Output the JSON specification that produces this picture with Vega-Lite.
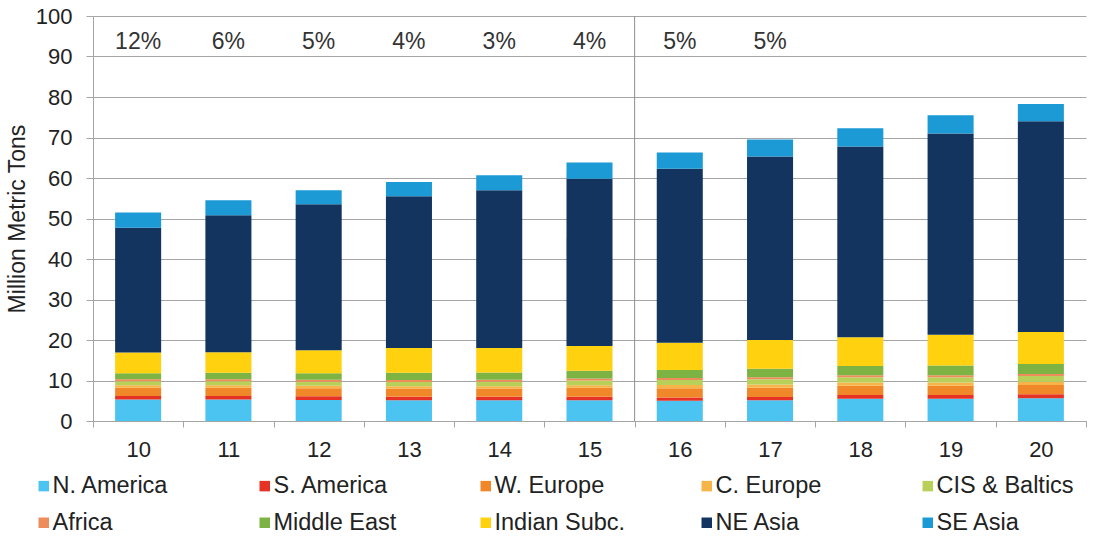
{
  "$schema": "https://vega.github.io/schema/vega-lite/v6.json",
  "width": 993,
  "height": 405,
  "autosize": "none",
  "padding": {"left": 93, "top": 16, "right": 7, "bottom": 115},
  "background": "white",
  "config": {"font": "Liberation Sans", "view": {"stroke": null}},
  "datasets": {
    "exports": [
      {"year": "10", "region": "N. America", "value": 5.3},
      {"year": "10", "region": "S. America", "value": 0.9},
      {"year": "10", "region": "W. Europe", "value": 2.0},
      {"year": "10", "region": "C. Europe", "value": 0.6},
      {"year": "10", "region": "CIS & Baltics", "value": 1.0},
      {"year": "10", "region": "Africa", "value": 0.5},
      {"year": "10", "region": "Middle East", "value": 1.5},
      {"year": "10", "region": "Indian Subc.", "value": 5.1},
      {"year": "10", "region": "NE Asia", "value": 30.8},
      {"year": "10", "region": "SE Asia", "value": 3.8},
      {"year": "11", "region": "N. America", "value": 5.3},
      {"year": "11", "region": "S. America", "value": 0.9},
      {"year": "11", "region": "W. Europe", "value": 2.0},
      {"year": "11", "region": "C. Europe", "value": 0.6},
      {"year": "11", "region": "CIS & Baltics", "value": 1.0},
      {"year": "11", "region": "Africa", "value": 0.5},
      {"year": "11", "region": "Middle East", "value": 1.6},
      {"year": "11", "region": "Indian Subc.", "value": 5.1},
      {"year": "11", "region": "NE Asia", "value": 33.8},
      {"year": "11", "region": "SE Asia", "value": 3.7},
      {"year": "12", "region": "N. America", "value": 5.2},
      {"year": "12", "region": "S. America", "value": 0.9},
      {"year": "12", "region": "W. Europe", "value": 2.0},
      {"year": "12", "region": "C. Europe", "value": 0.6},
      {"year": "12", "region": "CIS & Baltics", "value": 1.0},
      {"year": "12", "region": "Africa", "value": 0.5},
      {"year": "12", "region": "Middle East", "value": 1.6},
      {"year": "12", "region": "Indian Subc.", "value": 5.7},
      {"year": "12", "region": "NE Asia", "value": 36.0},
      {"year": "12", "region": "SE Asia", "value": 3.5},
      {"year": "13", "region": "N. America", "value": 5.1},
      {"year": "13", "region": "S. America", "value": 0.9},
      {"year": "13", "region": "W. Europe", "value": 2.0},
      {"year": "13", "region": "C. Europe", "value": 0.6},
      {"year": "13", "region": "CIS & Baltics", "value": 1.0},
      {"year": "13", "region": "Africa", "value": 0.5},
      {"year": "13", "region": "Middle East", "value": 1.8},
      {"year": "13", "region": "Indian Subc.", "value": 6.1},
      {"year": "13", "region": "NE Asia", "value": 37.5},
      {"year": "13", "region": "SE Asia", "value": 3.5},
      {"year": "14", "region": "N. America", "value": 5.1},
      {"year": "14", "region": "S. America", "value": 0.9},
      {"year": "14", "region": "W. Europe", "value": 2.0},
      {"year": "14", "region": "C. Europe", "value": 0.6},
      {"year": "14", "region": "CIS & Baltics", "value": 1.1},
      {"year": "14", "region": "Africa", "value": 0.5},
      {"year": "14", "region": "Middle East", "value": 1.8},
      {"year": "14", "region": "Indian Subc.", "value": 6.0},
      {"year": "14", "region": "NE Asia", "value": 39.0},
      {"year": "14", "region": "SE Asia", "value": 3.7},
      {"year": "15", "region": "N. America", "value": 5.1},
      {"year": "15", "region": "S. America", "value": 0.9},
      {"year": "15", "region": "W. Europe", "value": 2.2},
      {"year": "15", "region": "C. Europe", "value": 0.6},
      {"year": "15", "region": "CIS & Baltics", "value": 1.2},
      {"year": "15", "region": "Africa", "value": 0.5},
      {"year": "15", "region": "Middle East", "value": 1.9},
      {"year": "15", "region": "Indian Subc.", "value": 6.1},
      {"year": "15", "region": "NE Asia", "value": 41.3},
      {"year": "15", "region": "SE Asia", "value": 4.0},
      {"year": "16", "region": "N. America", "value": 5.0},
      {"year": "16", "region": "S. America", "value": 0.8},
      {"year": "16", "region": "W. Europe", "value": 2.3},
      {"year": "16", "region": "C. Europe", "value": 0.8},
      {"year": "16", "region": "CIS & Baltics", "value": 1.2},
      {"year": "16", "region": "Africa", "value": 0.5},
      {"year": "16", "region": "Middle East", "value": 2.0},
      {"year": "16", "region": "Indian Subc.", "value": 6.7},
      {"year": "16", "region": "NE Asia", "value": 43.0},
      {"year": "16", "region": "SE Asia", "value": 4.0},
      {"year": "17", "region": "N. America", "value": 5.1},
      {"year": "17", "region": "S. America", "value": 0.8},
      {"year": "17", "region": "W. Europe", "value": 2.3},
      {"year": "17", "region": "C. Europe", "value": 0.8},
      {"year": "17", "region": "CIS & Baltics", "value": 1.3},
      {"year": "17", "region": "Africa", "value": 0.5},
      {"year": "17", "region": "Middle East", "value": 2.1},
      {"year": "17", "region": "Indian Subc.", "value": 7.1},
      {"year": "17", "region": "NE Asia", "value": 45.3},
      {"year": "17", "region": "SE Asia", "value": 4.2},
      {"year": "18", "region": "N. America", "value": 5.5},
      {"year": "18", "region": "S. America", "value": 0.9},
      {"year": "18", "region": "W. Europe", "value": 2.3},
      {"year": "18", "region": "C. Europe", "value": 0.8},
      {"year": "18", "region": "CIS & Baltics", "value": 1.3},
      {"year": "18", "region": "Africa", "value": 0.5},
      {"year": "18", "region": "Middle East", "value": 2.3},
      {"year": "18", "region": "Indian Subc.", "value": 7.1},
      {"year": "18", "region": "NE Asia", "value": 47.1},
      {"year": "18", "region": "SE Asia", "value": 4.5},
      {"year": "19", "region": "N. America", "value": 5.5},
      {"year": "19", "region": "S. America", "value": 0.9},
      {"year": "19", "region": "W. Europe", "value": 2.3},
      {"year": "19", "region": "C. Europe", "value": 0.8},
      {"year": "19", "region": "CIS & Baltics", "value": 1.3},
      {"year": "19", "region": "Africa", "value": 0.5},
      {"year": "19", "region": "Middle East", "value": 2.4},
      {"year": "19", "region": "Indian Subc.", "value": 7.6},
      {"year": "19", "region": "NE Asia", "value": 49.7},
      {"year": "19", "region": "SE Asia", "value": 4.5},
      {"year": "20", "region": "N. America", "value": 5.6},
      {"year": "20", "region": "S. America", "value": 1.0},
      {"year": "20", "region": "W. Europe", "value": 2.3},
      {"year": "20", "region": "C. Europe", "value": 0.8},
      {"year": "20", "region": "CIS & Baltics", "value": 1.4},
      {"year": "20", "region": "Africa", "value": 0.5},
      {"year": "20", "region": "Middle East", "value": 2.5},
      {"year": "20", "region": "Indian Subc.", "value": 7.9},
      {"year": "20", "region": "NE Asia", "value": 52.0},
      {"year": "20", "region": "SE Asia", "value": 4.3}
    ],
    "growth": [
      {"year": "10", "label": "12%"},
      {"year": "11", "label": "6%"},
      {"year": "12", "label": "5%"},
      {"year": "13", "label": "4%"},
      {"year": "14", "label": "3%"},
      {"year": "15", "label": "4%"},
      {"year": "16", "label": "5%"},
      {"year": "17", "label": "5%"}
    ],
    "divider": [{"year": "16"}]
  },
  "layer": [
    {
      "data": {"name": "exports"},
      "transform": [
        {"calculate": "indexof(['N. America','S. America','W. Europe','C. Europe','CIS & Baltics','Africa','Middle East','Indian Subc.','NE Asia','SE Asia'], datum.region)", "as": "stackOrder"}
      ],
      "mark": {"type": "bar", "width": {"band": 0.51}},
      "encoding": {
        "x": {
          "field": "year", "type": "ordinal",
          "scale": {"paddingInner": 0, "paddingOuter": 0},
          "axis": {
            "title": null, "labelAngle": 0, "tickBand": "extent",
            "labelFontSize": 22, "labelColor": "#222222", "labelPadding": 12,
            "domainColor": "#A6A6A6", "tickColor": "#A6A6A6", "tickSize": 6, "grid": false
          }
        },
        "y": {
          "field": "value", "type": "quantitative", "stack": "zero",
          "scale": {"domain": [0, 100], "nice": false},
          "axis": {
            "title": "Million Metric Tons", "titleFontSize": 23, "titleFontWeight": "normal",
            "titleColor": "#222222", "titlePadding": 6,
            "values": [0, 10, 20, 30, 40, 50, 60, 70, 80, 90, 100],
            "labelFontSize": 22, "labelColor": "#222222", "labelPadding": 14,
            "gridColor": "#A6A6A6", "domainColor": "#A6A6A6", "tickColor": "#A6A6A6", "tickSize": 7
          }
        },
        "order": {"field": "stackOrder", "type": "quantitative", "sort": "ascending"},
        "color": {
          "field": "region", "type": "nominal",
          "scale": {
            "domain": ["N. America", "S. America", "W. Europe", "C. Europe", "CIS & Baltics", "Africa", "Middle East", "Indian Subc.", "NE Asia", "SE Asia"],
            "range": ["#4CC4F2", "#E53224", "#F0882A", "#F7B449", "#B8D05A", "#EF8C5C", "#7CB342", "#FFD10F", "#13345F", "#1B9AD6"]
          },
          "legend": {
            "title": null, "orient": "none", "direction": "horizontal", "legendX": -61, "legendY": 458,
            "columns": 5, "gridAlign": "all", "columnPadding": 63, "rowPadding": 12,
            "symbolType": "square", "symbolSize": 110, "symbolStrokeWidth": 0,
            "labelFontSize": 23.5, "labelColor": "#222222", "labelOffset": -3, "labelLimit": 300
          }
        }
      }
    },
    {
      "data": {"name": "divider"},
      "mark": {"type": "rule", "color": "#8C8C8C", "strokeWidth": 1},
      "encoding": {"x": {"field": "year", "type": "ordinal", "bandPosition": 0}}
    },
    {
      "data": {"name": "growth"},
      "mark": {"type": "text", "fontSize": 23, "color": "#333333", "baseline": "middle", "align": "center"},
      "encoding": {
        "x": {"field": "year", "type": "ordinal"},
        "y": {"datum": 93.6},
        "text": {"field": "label"}
      }
    }
  ]
}
